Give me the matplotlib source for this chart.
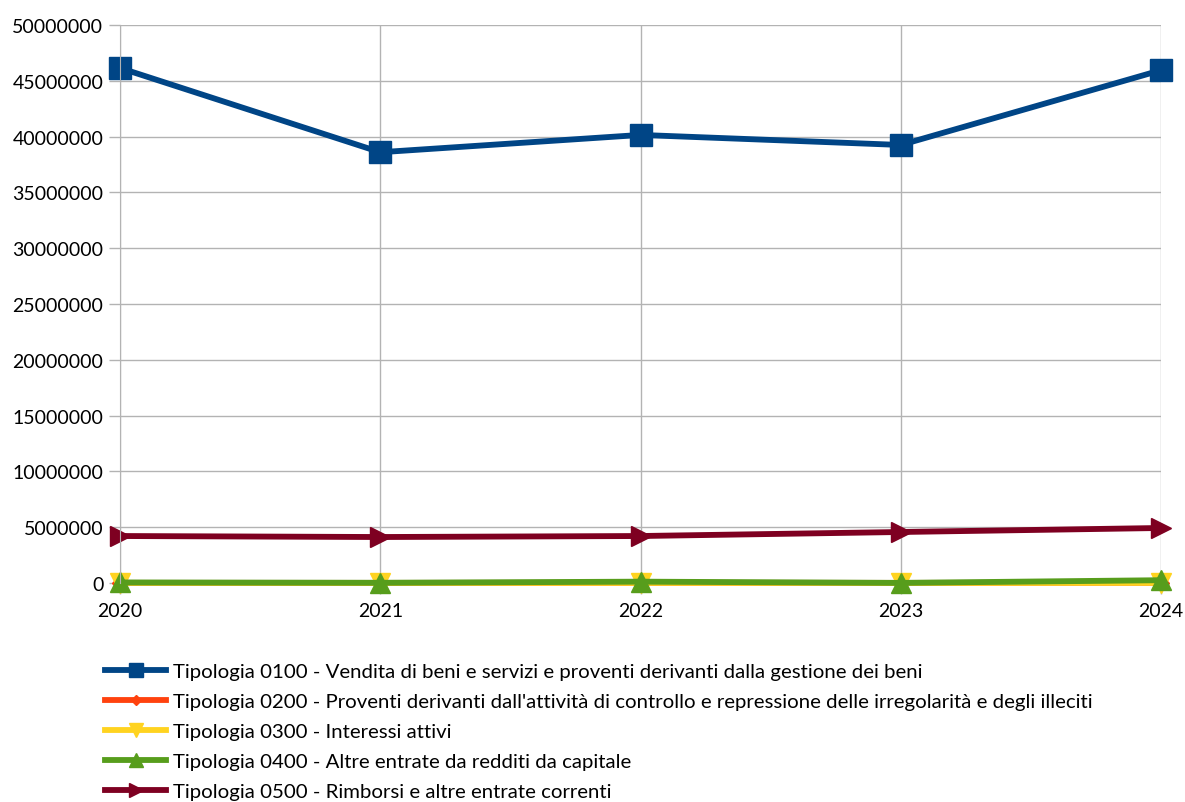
import matplotlib.pyplot as plt

# data
anni = [2020, 2021, 2022, 2023, 2024]
tip0100 = [46150000, 38600000, 40150000, 39250000, 45950000]
tip0200 = [10000, 10000, 15000, 10000, 20000]
tip0300 = [5000, 5000, 8000, 5000, 10000]
tip0400 = [50000, 20000, 120000, 10000, 250000]
tip0500 = [4210000, 4120000, 4210000, 4570000, 4930000]

etichette = [
    "Tipologia 0100 - Vendita di beni e servizi e proventi derivanti dalla gestione dei beni",
    "Tipologia 0200 - Proventi derivanti dall'attività di controllo e repressione delle irregolarità e degli illeciti",
    "Tipologia 0300 - Interessi attivi",
    "Tipologia 0400 - Altre entrate da redditi da capitale",
    "Tipologia 0500 - Rimborsi e altre entrate correnti",
]
colori = ["#004586", "#ff420e", "#ffd320", "#579d1c", "#7e0021"]
marker = ["s", "D", "v", "^", ">"]
msize = [16, 8, 15, 15, 15]
serie = [tip0100, tip0200, tip0300, tip0400, tip0500]

plt.rcParams['font.family'] = ['Lato', 'DejaVu Sans']

fig = plt.figure(figsize=(11.85, 8.03), dpi=100)
ax = fig.add_axes([120/1185, 1-584/803, (1161-120)/1185, (584-26)/803])

for s, c, m, ms, lab in zip(serie, colori, marker, msize, etichette):
    ax.plot(anni, s, color=c, marker=m, markersize=ms, linewidth=4.2,
            label=lab, clip_on=False)

ax.set_xlim(2020, 2024)
ax.set_ylim(0, 50000000)
ax.set_xticks(anni)
ax.set_yticks(range(0, 50000001, 5000000))
ax.ticklabel_format(axis='y', style='plain', useOffset=False)
ax.grid(True, color='#b3b3b3', linewidth=1)
ax.set_axisbelow(True)
for sp in ['top', 'right', 'bottom']:
    ax.spines[sp].set_visible(False)
ax.spines['left'].set_color('#b3b3b3')
ax.tick_params(axis='both', colors='#b3b3b3', labelcolor='black', labelsize=14,
               length=8, width=1)
ax.tick_params(axis='x', pad=6)
ax.tick_params(axis='y', pad=4)

leg = ax.legend(loc='upper left', bbox_to_anchor=(105/1185, 1-664/803),
                bbox_transform=fig.transFigure, frameon=False, fontsize=14.7,
                handlelength=3.0, markerscale=0.65, labelspacing=0.62,
                handletextpad=0.35, borderpad=0, borderaxespad=0)

fig.savefig("out.png", dpi=100)
